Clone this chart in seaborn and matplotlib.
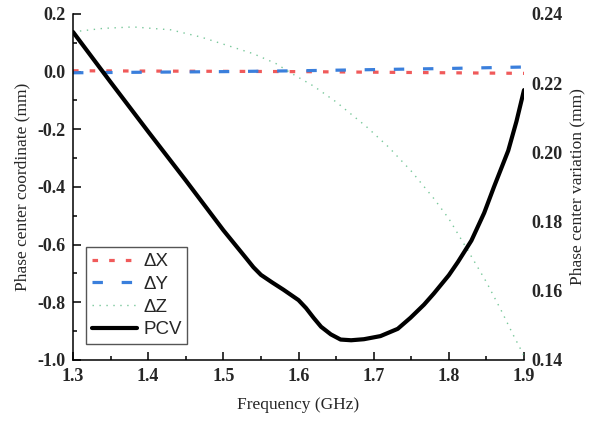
import numpy as np
import pandas as pd
import seaborn as sns
import matplotlib.pyplot as plt
from matplotlib.ticker import MultipleLocator, FormatStrFormatter

# values
freq_xy = [1.30, 1.40, 1.50, 1.60, 1.70, 1.80, 1.90]
dx = [0.003, 0.002, 0.001, 0.000, -0.002, -0.004, -0.006]
dy = [-0.004, -0.002, 0.000, 0.003, 0.007, 0.011, 0.016]

freq_z = [1.30, 1.34, 1.38, 1.43, 1.47, 1.51, 1.54, 1.57, 1.59, 1.62, 1.65,
          1.69, 1.72, 1.75, 1.78, 1.80, 1.825, 1.85, 1.87, 1.885, 1.90]
dz = [0.138, 0.150, 0.155, 0.145, 0.120, 0.087, 0.062, 0.028, -0.005, -0.050, -0.105,
      -0.190, -0.262, -0.345, -0.440, -0.510, -0.619, -0.730, -0.830, -0.910, -0.985]

freq_pcv = [1.30, 1.35, 1.40, 1.45, 1.50, 1.515, 1.53, 1.54, 1.55, 1.565, 1.58,
            1.60, 1.61, 1.62, 1.63, 1.643, 1.656, 1.67, 1.687, 1.709, 1.732,
            1.749, 1.767, 1.78, 1.80, 1.812, 1.83, 1.847, 1.86, 1.879, 1.89, 1.90]
pcv = [0.2348, 0.2203, 0.2060, 0.1919, 0.1775, 0.1735, 0.1695, 0.1668, 0.1646, 0.1624, 0.1603,
       0.1573, 0.1550, 0.1522, 0.1496, 0.1474, 0.1459, 0.1457, 0.1460, 0.1469, 0.1490,
       0.1522, 0.1560, 0.1592, 0.1645, 0.1683, 0.1745, 0.1825, 0.1900, 0.2005, 0.2090, 0.2180]

sns.set_style('ticks')
plt.rcParams['font.family'] = ['Liberation Serif', 'DejaVu Serif']
plt.rcParams['lines.scale_dashes'] = False

fig = plt.figure(figsize=(5.95, 4.23), dpi=100)
ax = fig.add_axes([0.1227, 0.149, 0.7580, 0.818])
ax2 = ax.twinx()

sns.lineplot(x=freq_xy, y=dx, ax=ax, color='#f05a5a', lw=2.3, label='ΔX')
sns.lineplot(x=freq_xy, y=dy, ax=ax, color='#3a7fdc', lw=2.3, label='ΔY')
sns.lineplot(x=freq_z, y=dz, ax=ax, color='#3fb070', lw=1.0, alpha=0.7, label='ΔZ')
ax.lines[0].set_dashes((4.0, 8.0))
ax.lines[1].set_dashes((7.5, 13.5))
ax.lines[2].set_dashes((1.0, 4.0))

sns.lineplot(x=freq_pcv, y=pcv, ax=ax2, color='black', lw=3.0, label='PCV',
             solid_joinstyle='round')

ax.set_xlim(1.3, 1.9)
ax.set_ylim(-1.0, 0.2)
ax2.set_ylim(0.14, 0.24)

ax.xaxis.set_major_locator(MultipleLocator(0.1))
ax.xaxis.set_minor_locator(MultipleLocator(0.05))
ax.yaxis.set_major_locator(MultipleLocator(0.2))
ax.yaxis.set_minor_locator(MultipleLocator(0.1))
ax.xaxis.set_major_formatter(FormatStrFormatter('%.1f'))
ax.yaxis.set_major_formatter(FormatStrFormatter('%.1f'))
ax2.yaxis.set_major_locator(MultipleLocator(0.02))
ax2.yaxis.set_major_formatter(FormatStrFormatter('%.2f'))

for s in ['top', 'right']:
    ax.spines[s].set_visible(False)
for s in ['top', 'right', 'left', 'bottom']:
    ax2.spines[s].set_visible(False)
for s in ['left', 'bottom']:
    ax.spines[s].set_linewidth(1.1)
    ax.spines[s].set_color('black')

ax.tick_params(which='major', direction='in', length=5.5, width=1.1, color='black',
               labelsize=13, pad=5.5)
ax.tick_params(which='minor', direction='in', length=3, width=1.1, color='black')
ax2.tick_params(axis='y', length=0, labelsize=13, pad=5.5)
for lab in ax.get_xticklabels() + ax.get_yticklabels() + ax2.get_yticklabels():
    lab.set_fontweight('bold')

ax.set_xlabel('Frequency (GHz)', fontsize=12.5, labelpad=9)
ax.set_ylabel('Phase center coordinate (mm)', fontsize=12.5, labelpad=5)
ax2.set_ylabel('Phase center variation (mm)', fontsize=12.5, rotation=90, labelpad=5)

h1, l1 = ax.get_legend_handles_labels()
h2, l2 = ax2.get_legend_handles_labels()
ax2.get_legend().remove()
ax.get_legend().remove()
leg = ax2.legend(h1 + h2, l1 + l2, loc='lower left', bbox_to_anchor=(0.029, 0.046),
                 borderaxespad=0, fancybox=False, framealpha=1, edgecolor='#555555',
                 handlelength=2.4, handletextpad=0.35, labelspacing=0.3, borderpad=0.3,
                 prop={'family': 'Liberation Sans', 'size': 13.5})
leg.get_frame().set_linewidth(1.0)

plt.savefig('out.png', dpi=100)
